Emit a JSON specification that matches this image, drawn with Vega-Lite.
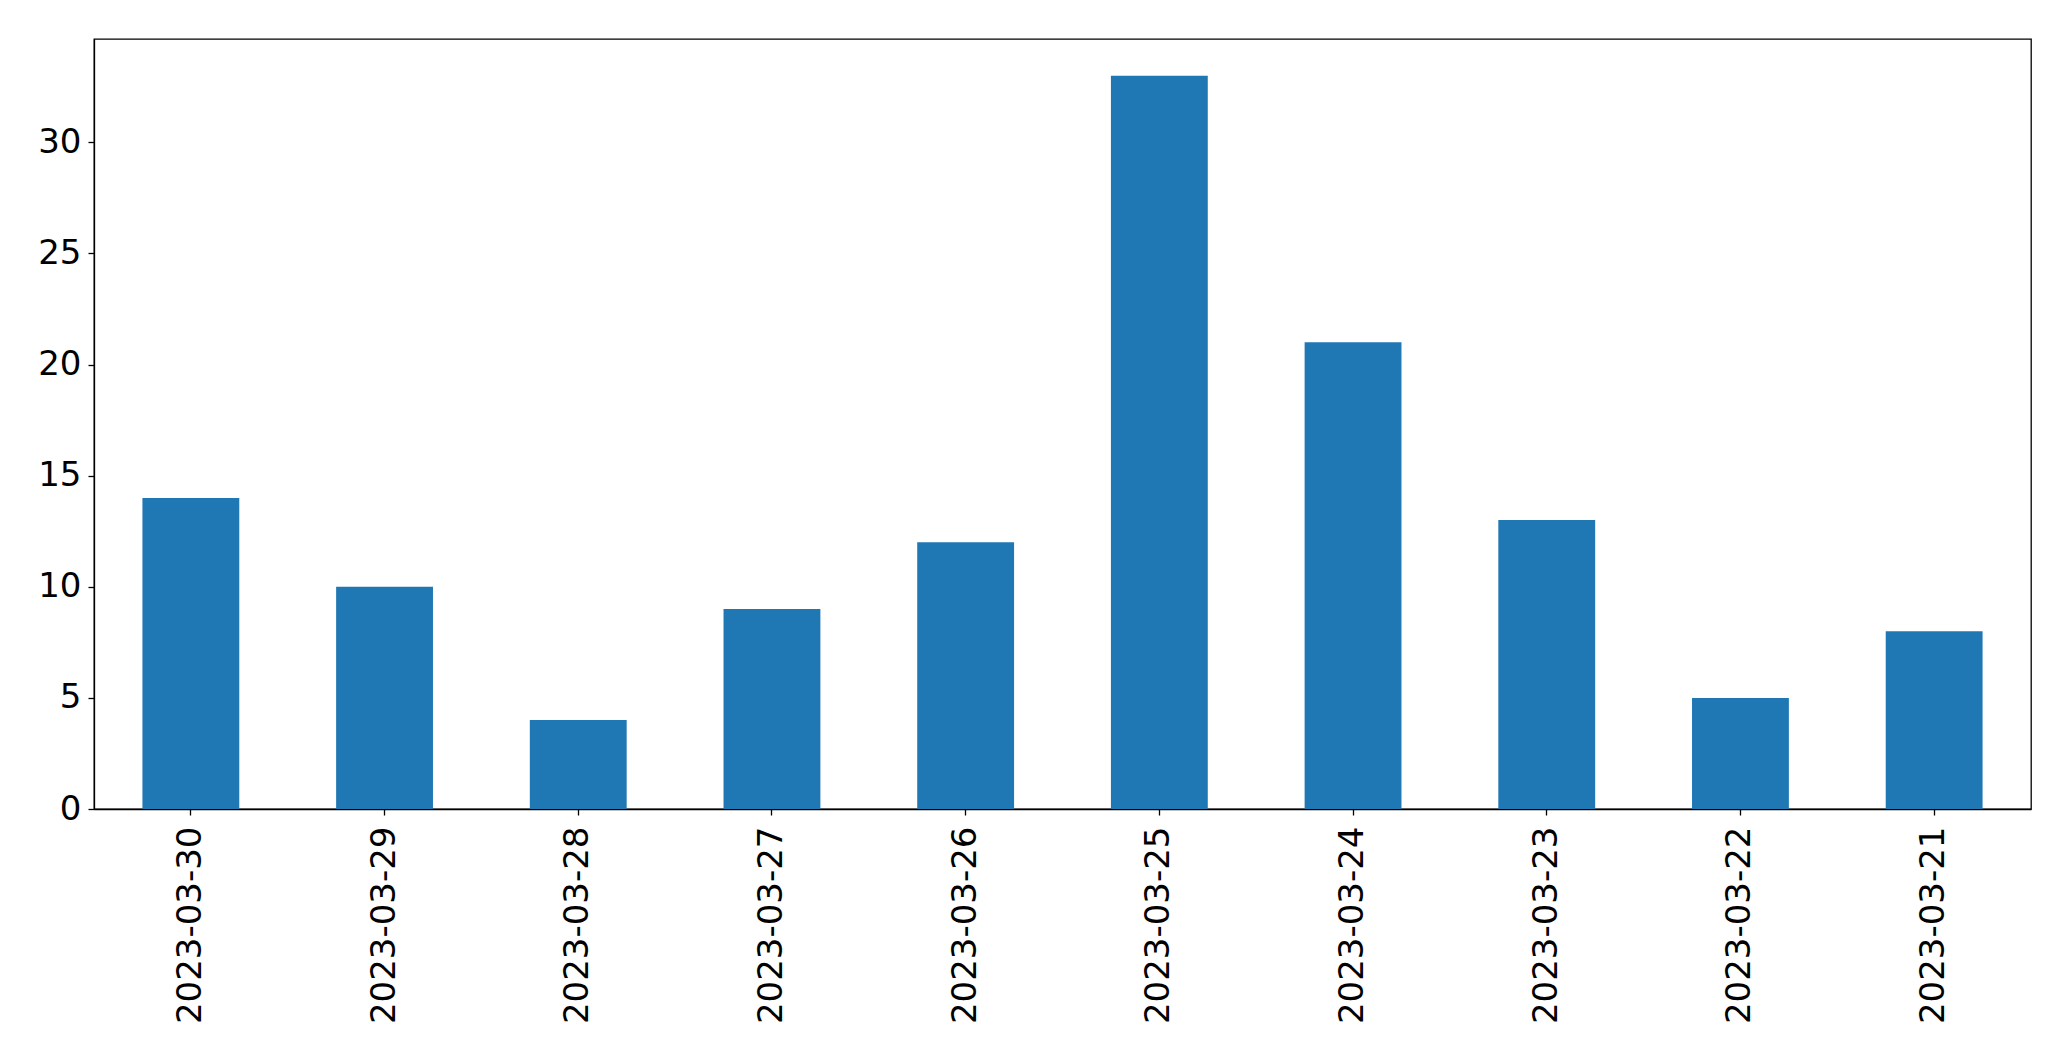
{
  "$schema": "https://vega.github.io/schema/vega-lite/v6.json",
  "width": 1937,
  "height": 770,
  "autosize": {"type": "none"},
  "padding": {"left": 94, "top": 39, "right": 40, "bottom": 252},
  "background": "white",
  "data": {
    "values": [
      {"date": "2023-03-30", "count": 14},
      {"date": "2023-03-29", "count": 10},
      {"date": "2023-03-28", "count": 4},
      {"date": "2023-03-27", "count": 9},
      {"date": "2023-03-26", "count": 12},
      {"date": "2023-03-25", "count": 33},
      {"date": "2023-03-24", "count": 21},
      {"date": "2023-03-23", "count": 13},
      {"date": "2023-03-22", "count": 5},
      {"date": "2023-03-21", "count": 8}
    ]
  },
  "mark": {"type": "bar", "color": "#1f77b4"},
  "encoding": {
    "x": {
      "field": "date",
      "type": "nominal",
      "sort": null,
      "scale": {"paddingInner": 0.5, "paddingOuter": 0.25},
      "axis": {
        "title": null,
        "labelAngle": -90,
        "labelFont": "DejaVu Sans",
        "labelFontSize": 34,
        "labelLimit": 0,
        "labelColor": "black",
        "labelPadding": 11,
        "tickSize": 6,
        "tickColor": "black",
        "tickWidth": 1.3,
        "domainColor": "black",
        "domainWidth": 1.3
      }
    },
    "y": {
      "field": "count",
      "type": "quantitative",
      "scale": {"domain": [0, 34.65], "nice": false, "zero": true},
      "axis": {
        "title": null,
        "values": [0, 5, 10, 15, 20, 25, 30],
        "grid": false,
        "labelFont": "DejaVu Sans",
        "labelFontSize": 34,
        "labelColor": "black",
        "labelPadding": 7,
        "tickSize": 6,
        "tickColor": "black",
        "tickWidth": 1.3,
        "domainColor": "black",
        "domainWidth": 1.3
      }
    }
  },
  "config": {
    "view": {"stroke": "black", "strokeWidth": 1.3}
  }
}
